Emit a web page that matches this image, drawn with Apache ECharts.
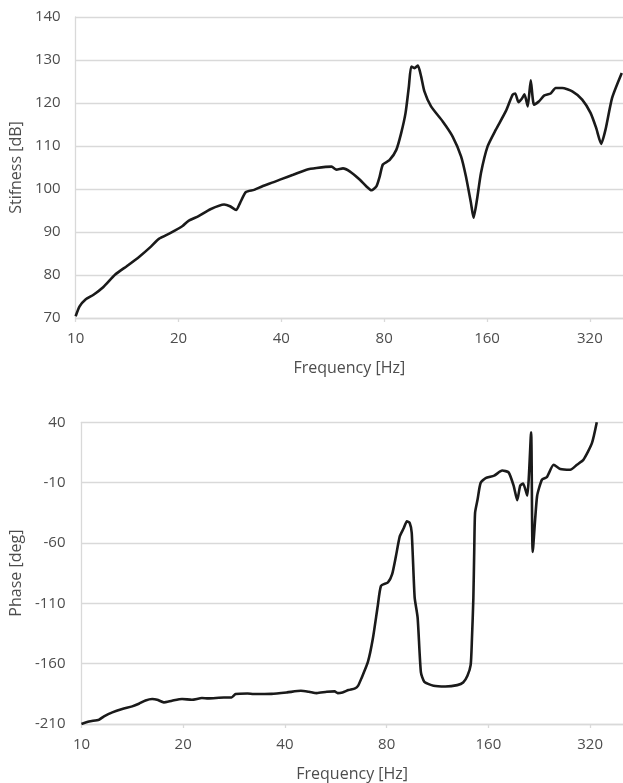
<!DOCTYPE html>
<html>
<head>
<meta charset="utf-8">
<script src="https://cdn.jsdelivr.net/npm/echarts@6/dist/echarts.min.js"></script>
<style>html,body{margin:0;padding:0;background:#fff;}#c{width:623px;height:783px;}</style>
</head>
<body>
<div id="c"></div>
<script>
// Frequencies in Hz
const stiffFreq = [10,10.27,10.69,11.28,12.06,13.06,14.14,15.33,16.61,17.52,18.97,20.56,21.4,22.9,24.8,27.2,28.3,29.5,30.3,31.5,33.3,35.1,38.0,40.0,43.3,47.4,50.7,56.1,58.0,60.6,63.4,67.8,71.0,73.4,75.9,77.6,79.3,82.9,86.8,89.7,92.4,94.5,96.0,98.1,100.4,102.6,104.9,109.7,118.7,126.9,134.3,138.8,143.6,146.1,149.5,153.6,160.6,169.8,181.6,190.0,193.4,197.8,202.2,205.9,210.5,214.8,219.6,227.2,234.9,245.7,254.1,265.6,284.2,303.8,321.4,333.8,345.3,355.5,371.7,396.7];
const stiffDb = [70.4,72.7,74.3,75.4,77.2,80.1,82.1,84.2,86.6,88.4,89.8,91.4,92.6,93.7,95.3,96.4,96.0,95.1,96.8,99.3,99.8,100.6,101.6,102.3,103.3,104.5,104.9,105.2,104.5,104.8,104.1,102.2,100.6,99.7,100.6,102.9,105.7,106.7,109.1,113.0,117.7,123.9,128.5,128.1,128.7,126.2,122.7,119.2,115.7,112.2,107.6,102.9,96.7,93.3,97.5,103.7,109.9,113.8,118.1,121.9,122.2,120.2,121.0,122.0,119.2,125.3,119.6,120.4,121.7,122.2,123.5,123.5,122.7,120.8,117.7,114.2,110.5,113.8,121.2,127.0];

const phaseFreq = [10,10.53,11.27,11.66,12.34,13.2,14.13,14.79,15.47,16.19,16.75,17.52,18.54,19.84,21.23,22.72,23.7,26.4,27.8,28.6,31.0,32.3,36.5,40.6,44.6,47.1,49.7,53.2,56.1,57.3,59.2,61.7,64.5,65.8,67.3,70.4,72.8,75.3,77.0,80.7,83.0,85.2,87.5,89.9,91.8,93.6,94.9,96.8,98.8,101.0,103.4,110.1,119.3,129.4,134.7,138.7,141.8,143.0,144.4,145.3,146.1,148.6,151.7,157.0,166.4,175.8,183.6,190.2,194.7,198.7,202.7,208.4,214.0,216.4,222.9,230.5,238.5,249.5,261.0,279.4,292.4,305.7,323.9,334.8];
const phaseDeg = [-210,-207.9,-206.4,-203.7,-200.4,-197.6,-195.4,-193.2,-190.5,-189.3,-189.9,-192.1,-190.7,-189.3,-189.9,-188.5,-188.8,-188.0,-188.0,-185.2,-184.7,-185.2,-185.0,-183.8,-182.5,-183.3,-184.4,-183.3,-183.0,-184.4,-183.8,-181.9,-180.5,-178.4,-172.4,-158.6,-139.4,-112,-95.4,-92.6,-86.1,-71.0,-54.4,-47.6,-42.0,-43.4,-51.7,-105,-122,-167,-175,-178.3,-178.9,-177.8,-175.6,-170,-161,-140,-106,-65,-35,-24,-10.3,-6.2,-4.2,0.0,-1.5,-13,-24.6,-12.5,-10.8,-20.7,31.8,-67.4,-21.3,-7.5,-5.3,4.8,1.3,0.7,4.8,9,22.7,40];

const freqTicks = [10, 20, 40, 80, 160, 320];
const fMin = 10, fMax = 400;

const lg = f => Math.log2(f / fMin);
const toPairs = (fs, vs) => fs.map((f, i) => [lg(f), vs[i]]);

const txt = '#4d4d4d';
const gridCol = '#d9d9d9';
const font = 'Open Sans';

function xAxisCfg(gi) {
  return {
    gridIndex: gi, type: 'value', min: 0, max: lg(fMax), interval: 1,
    name: 'Frequency [Hz]', nameLocation: 'middle', nameGap: 42,
    nameTextStyle: {color: txt, fontSize: 16, fontFamily: font},
    axisLine: {show: true, onZero: false, lineStyle: {color: gridCol, width: 1.3}},
    axisTick: {show: true, length: 4, lineStyle: {color: gridCol, width: 1.3}},
    splitLine: {show: false},
    axisLabel: {color: txt, fontSize: 15, fontFamily: font, margin: 13, showMaxLabel: false,
      formatter: v => { const f = Math.round(fMin * Math.pow(2, v)); return freqTicks.indexOf(f) >= 0 ? String(f) : ''; }}
  };
}

const chart = echarts.init(document.getElementById('c'), null, {renderer: 'canvas'});
chart.setOption({
  animation: false,
  backgroundColor: '#fff',
  grid: [
    {left: 75, top: 17, width: 549.2, height: 301},
    {left: 79, top: 422.3, width: 543.9, height: 302}
  ],
  xAxis: [xAxisCfg(0), xAxisCfg(1)],
  yAxis: [
    {gridIndex: 0, type: 'value', min: 70, max: 140, interval: 10,
     name: 'Stifness [dB]', nameLocation: 'middle', nameGap: 46,
     nameTextStyle: {color: txt, fontSize: 16, fontFamily: font},
     axisLine: {show: true, lineStyle: {color: gridCol, width: 1.3}},
     axisTick: {show: false},
     splitLine: {show: true, lineStyle: {color: gridCol, width: 1.3}},
     axisLabel: {color: txt, fontSize: 15, fontFamily: font, margin: 15}},
    {gridIndex: 1, type: 'value', min: -210, max: 40, interval: 50,
     name: 'Phase [deg]', nameLocation: 'middle', nameGap: 50,
     nameTextStyle: {color: txt, fontSize: 16, fontFamily: font},
     axisLine: {show: true, lineStyle: {color: gridCol, width: 1.3}},
     axisTick: {show: false},
     splitLine: {show: true, lineStyle: {color: gridCol, width: 1.3}},
     axisLabel: {color: txt, fontSize: 15, fontFamily: font, margin: 16}}
  ],
  series: [
    {type: 'line', xAxisIndex: 0, yAxisIndex: 0, data: toPairs(stiffFreq, stiffDb),
     showSymbol: false, smooth: 0.2, clip: true,
     lineStyle: {color: '#1a1a1a', width: 2.6}},
    {type: 'line', xAxisIndex: 1, yAxisIndex: 1, data: toPairs(phaseFreq, phaseDeg),
     showSymbol: false, smooth: 0.2, clip: true,
     lineStyle: {color: '#1a1a1a', width: 2.6}}
  ]
});
</script>
</body>
</html>
